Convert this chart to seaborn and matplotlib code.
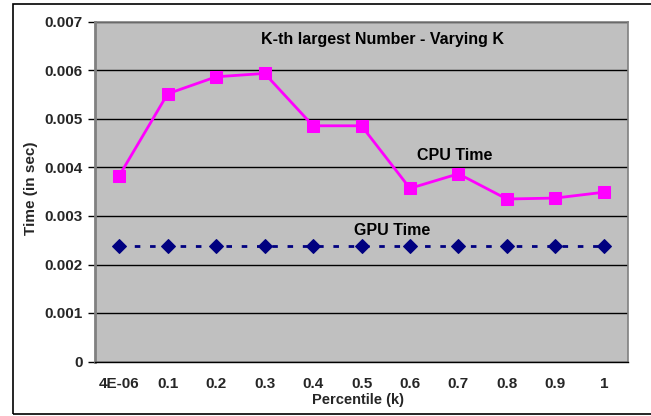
import matplotlib
matplotlib.use("Agg")
import matplotlib.pyplot as plt
import seaborn as sns
import pandas as pd
from matplotlib.patches import Rectangle

categories = ["4E-06", "0.1", "0.2", "0.3", "0.4", "0.5", "0.6", "0.7", "0.8", "0.9", "1"]
cpu_time = [0.00383, 0.00552, 0.00587, 0.00594, 0.00486, 0.00486, 0.00357, 0.00387, 0.00335, 0.00337, 0.00349]
gpu_time = [0.00238] * 11
y_ticks = [0, 0.001, 0.002, 0.003, 0.004, 0.005, 0.006, 0.007]
y_labels = ["0", "0.001", "0.002", "0.003", "0.004", "0.005", "0.006", "0.007"]

sns.set_theme(style="white")
plt.rcParams["font.family"] = ["Liberation Sans", "DejaVu Sans"]
plt.rcParams["font.weight"] = "bold"

df = pd.DataFrame({"k": categories, "CPU Time": cpu_time, "GPU Time": gpu_time})

fig = plt.figure(figsize=(6.51, 4.16), dpi=100)
fig.patch.set_facecolor("white")
ax = fig.add_axes([95 / 651, (416 - 361.5) / 416, (628 - 95) / 651, (361.5 - 22) / 416])
ax.set_facecolor("#C0C0C0")

sns.lineplot(data=df, x="k", y="CPU Time", sort=False, ax=ax, color="#FF00FF",
             linewidth=2, marker="s", markersize=8, markeredgecolor="#FF00FF", zorder=3)
sns.lineplot(data=df, x="k", y="GPU Time", sort=False, ax=ax, color="#000080",
             linewidth=2, linestyle=(0, (2, 3.5)), marker="D", markersize=7,
             markeredgecolor="#000080", zorder=3)

ax.set_xlim(-0.5, len(categories) - 0.5)
ax.set_ylim(0, 0.007)
ax.set_yticks(y_ticks)
ax.set_yticklabels(y_labels, fontsize=11, fontweight="bold")
ax.set_xticks(range(len(categories)))
ax.set_xticklabels(categories, fontsize=11, fontweight="bold")
ax.set_xticks([i - 0.5 for i in range(len(categories) + 1)], minor=True)
ax.tick_params(axis="x", which="major", length=0, pad=11)
ax.tick_params(axis="x", which="minor", length=5, width=1, color="black", direction="out")
ax.tick_params(axis="y", which="major", length=5, width=1, color="black", direction="out", pad=4, left=True)
ax.grid(axis="y", color="black", linewidth=1)
ax.set_axisbelow(True)
ax.set_xlabel("")
ax.set_ylabel("")

for side in ["left", "right", "top"]:
    ax.spines[side].set_color("#808080")
    ax.spines[side].set_linewidth(1.2)
ax.spines["left"].set_linewidth(2)
ax.spines["bottom"].set_color("black")
ax.spines["bottom"].set_linewidth(1)

ax.text(0.54, 0.947, "K-th largest Number - Varying K", transform=ax.transAxes,
        ha="center", va="center", fontsize=11.5, fontweight="bold", color="black")
ax.text((455 - 95) / 533, (361.5 - 155) / 339.5, "CPU Time", transform=ax.transAxes,
        ha="center", va="center", fontsize=11.5, fontweight="bold", color="black")
ax.text((392 - 95) / 533, (361.5 - 231) / 339.5, "GPU Time", transform=ax.transAxes,
        ha="center", va="center", fontsize=11.5, fontweight="bold", color="black")

fig.text(31 / 651, 1 - 188 / 416, "Time (in sec)", rotation=90, ha="center", va="center",
         fontsize=11, fontweight="bold")
fig.text(358 / 651, 1 - 400 / 416, "Percentile (k)", ha="center", va="center",
         fontsize=10.5, fontweight="bold")

fig.patches.append(Rectangle((13 / 651, 2 / 416), 1.2, 1 - 6 / 416, transform=fig.transFigure,
                             fill=False, edgecolor="black", linewidth=1.2))

fig.savefig("out.png", dpi=100)
